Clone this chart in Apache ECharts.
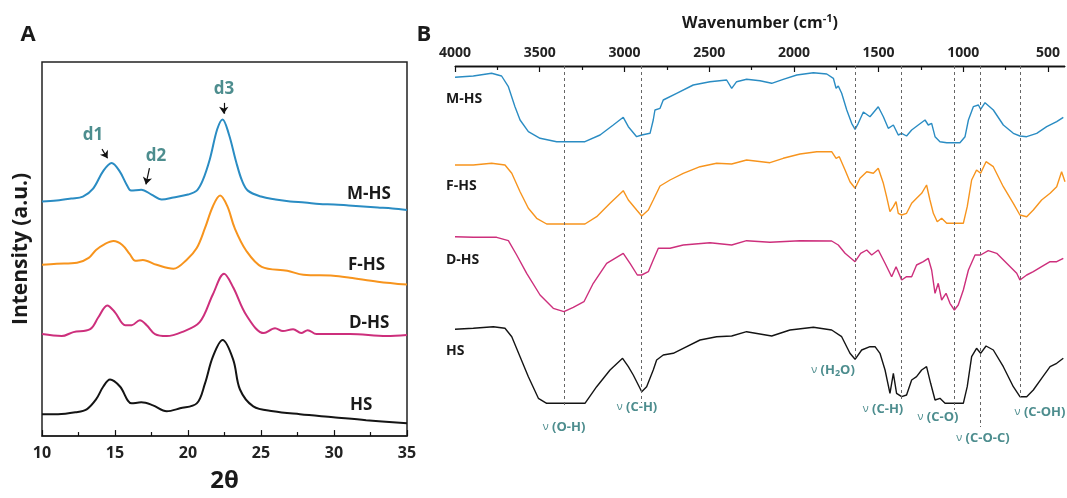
<!DOCTYPE html>
<html>
<head>
<meta charset="utf-8">
<script src="https://cdn.jsdelivr.net/npm/echarts@6/dist/echarts.min.js"></script>
<style>
html, body { margin: 0; background: #fff; }
#main { width: 1067px; height: 498px; }
</style>
</head>
<body>
<div id="main"></div>
<script>
// panel A, XRD: [2theta, intensity a.u. (curves stacked)]
var xrdMHS = [[10,237],[11,238],[12,240],[12.8,242],[13.5,250],[14.2,268],[14.77,276],[15.3,268],[15.8,254],[16.1,248],[16.8,249],[17.5,244],[18.2,239],[19,241],[20,244],[20.6,248],[21,258],[21.5,280],[22,310],[22.37,320],[22.8,305],[23.3,277],[23.7,258],[24.1,248],[25,242],[26,239],[27,237],[28,236],[29,234.5],[30,234],[31,233],[32,232],[33,231],[34,230],[35,228.5]];
var xrdFHS = [[10,173],[11,174],[12.4,175],[13.2,180],[13.7,188],[14.3,194],[14.9,197],[15.5,193],[16,184],[16.4,177],[16.9,178],[17.85,173],[19,169],[19.9,178],[20.6,190],[21.16,210],[21.7,232],[22.2,243],[22.7,232],[23.2,210],[24,187],[25.05,171],[26.8,167],[27.9,163],[29.95,162],[31.1,160],[33,156],[35,153]];
var xrdDHS = [[10,103],[11.35,101],[12.15,105],[13.3,108],[13.86,120],[14.47,132],[15,125],[15.7,112],[16.14,112],[16.7,117],[17.17,112],[17.74,103],[18.54,101],[19.57,105],[20.8,115],[21.7,143],[22.47,164],[23.1,150],[24,122],[25.2,104],[25.96,109],[26.5,106],[27.2,108],[27.75,104],[28.2,107],[28.8,103],[31.1,103],[33.6,101],[35,102]];
var xrdHS = [[10,22],[11.1,22],[12.3,24],[13.06,27],[13.7,37],[14.2,50],[14.66,57],[15.34,50],[16.14,33],[16.8,34],[17.6,31],[18.54,25],[19.45,28],[20.6,33],[21.16,53],[21.7,80],[22.37,97],[23.1,77],[23.56,47],[24.47,30],[25.84,25],[27.67,22],[29.95,19],[32.2,16],[35,13]];

// panel B, FTIR: [wavenumber, transmittance a.u. (curves stacked)]
var ftirMHS = [[4000,372.7],[3892,374],[3784,376.7],[3725,374],[3685,363.3],[3646,343.3],[3616,330],[3567,318.3],[3498,311.7],[3400,308.3],[3233,308.3],[3144,315],[3066,325],[3007,332.7],[2977,323.3],[2928,313.3],[2898,315],[2849,316.7],[2830,330],[2820,340],[2790,341.7],[2771,350],[2692,356.7],[2594,365],[2495,368.3],[2397,370],[2367,361.7],[2338,368.3],[2279,370.7],[2200,369.3],[2131,366.7],[2063,370.7],[1983,375],[1885,377.3],[1806,376],[1767,371.7],[1751,361.7],[1738,364],[1718,356.7],[1688,340],[1659,326.7],[1639,320.7],[1620,326.7],[1590,338],[1551,333.3],[1502,343.3],[1472,333.3],[1443,321.7],[1413,325],[1384,315],[1364,316.7],[1335,314],[1305,320],[1266,325],[1226,330],[1207,325],[1187,326.7],[1167,313.3],[1138,308.3],[1098,307.3],[1020,307.3],[990,313.3],[970,330],[941,343.3],[911,345],[898,340.7],[872,347.3],[823,340],[764,325],[705,316.7],[666,314],[626,313.3],[567,316.7],[508,323.3],[449,328.3],[410,332.7]];
var ftirFHS = [[4000,285],[3892,285],[3784,286.7],[3705,285],[3665,276.7],[3616,258.3],[3567,241.7],[3518,231.7],[3459,226],[3233,226],[3164,233.3],[3085,246.7],[3007,259.3],[2977,250],[2928,240],[2898,234],[2859,240],[2830,250],[2790,264],[2731,270],[2653,276.7],[2554,283.3],[2456,286.7],[2367,286],[2279,290],[2141,287.3],[2063,291.7],[1964,296],[1865,298.3],[1777,298.3],[1751,291.7],[1732,293.3],[1698,280],[1669,268.3],[1639,261.7],[1610,271.7],[1570,278.3],[1531,276.7],[1502,281.7],[1472,266.7],[1453,253.3],[1433,238.3],[1413,243.3],[1397,248.3],[1384,236.7],[1364,235],[1335,236.7],[1305,246.7],[1276,251.7],[1246,256.7],[1217,265],[1197,250],[1177,236.7],[1154,228.3],[1128,231.7],[1098,226.7],[1000,226.7],[977,243.3],[951,270],[922,280],[898,276.7],[866,288.3],[823,283.3],[764,263.3],[705,246.7],[666,235],[626,233.3],[587,240],[538,250],[488,256.7],[449,263.3],[420,278.3],[400,268.3]];
var ftirDHS = [[4000,213.3],[3892,212.7],[3754,212.7],[3685,209.3],[3636,195],[3577,176.7],[3498,155],[3420,141.7],[3357,138.3],[3302,142.7],[3239,148.3],[3184,166.7],[3105,186.7],[3007,196.7],[2967,186.7],[2924,175],[2898,175],[2859,178.3],[2830,190],[2800,201.7],[2731,201.7],[2653,205],[2495,207.3],[2367,205],[2279,209.3],[2141,207.7],[1964,209.3],[1777,209],[1738,205],[1698,196.7],[1639,188.3],[1606,196.7],[1570,200],[1541,195],[1502,200],[1462,186.7],[1423,173.3],[1397,183.3],[1364,170],[1335,173.3],[1305,173.3],[1276,185],[1236,188.3],[1207,191.7],[1187,180],[1167,156.7],[1148,166.7],[1128,150],[1102,156.7],[1079,146.7],[1053,140],[1030,145],[1000,160],[970,180],[931,195],[898,195],[853,199.3],[803,196.7],[744,186.7],[685,176.7],[666,170],[626,175],[587,178.3],[538,183.3],[488,188.3],[449,188.3],[410,191.7]];
var ftirHS = [[4000,120.7],[3892,121.7],[3774,123.3],[3705,121.7],[3665,113.3],[3616,93.3],[3567,73.3],[3508,51.7],[3459,46.7],[3233,46.7],[3164,63.3],[3085,80],[3011,91.7],[2977,83.3],[2948,75],[2898,58.3],[2869,63.3],[2830,80],[2810,90],[2771,95],[2712,96.7],[2653,101.7],[2554,110],[2456,113.3],[2367,114],[2279,118.3],[2131,114],[2023,120],[1885,122.7],[1777,120],[1718,113.3],[1669,96.7],[1639,90.7],[1600,100],[1551,103.3],[1521,103.3],[1492,96.7],[1462,80],[1433,56.7],[1413,76.7],[1394,56.7],[1364,53.3],[1335,55],[1305,70],[1276,73.3],[1246,80],[1217,83.3],[1193,66.7],[1167,50],[1138,51.7],[1108,46.7],[1000,46.7],[977,63.3],[951,93.3],[922,101.7],[898,96.7],[866,104],[823,100],[764,83.3],[705,63.3],[666,53.3],[626,53.3],[587,60],[538,71.7],[488,83.3],[449,86.7],[410,91.7]];

var sampleNames = ['M-HS', 'F-HS', 'D-HS', 'HS'];
var xrdMajor = [10, 15, 20, 25, 30, 35];
var xrdMinor = [12.5, 17.5, 22.5, 27.5, 32.5];
var ftirMajor = [500, 1000, 1500, 2000, 2500, 3000, 3500, 4000];
var ftirMinor = [750, 1250, 1750, 2250, 2750, 3250, 3750];
// band guides: wavenumber and where the dashed line stops (a.u.)
var bandPos = [3355, 2898, 1640, 1365, 1053, 900, 665];
var bandEnd = [45, 47, 90, 50, 40, 23, 53];
// d-spacing arrows on M-HS: [from, to] in [2theta, a.u.]
var dArrows = [[[14.11, 290], [14.49, 280.7]], [[17.36, 270.7], [17.12, 254.3]], [[22.45, 336.7], [22.45, 325.7]]];

var colors = ['#2a8cc3', '#f7941d', '#cd2f7c', '#141414'];
var teal = '#4d8d8e';
var XRD_TOP = 378, FTIR_TOP = 384;

var chart = echarts.init(document.getElementById('main'));

function txt(x, y, text, size, color, align, rich) {
    return {
        type: 'text', x: x, y: y, silent: true,
        style: {
            text: text, fill: color || '#1a1a1a', fontSize: size, fontWeight: 'bold',
            fontFamily: 'Open Sans', align: align || 'center', verticalAlign: 'middle',
            rich: rich
        }
    };
}
var nuRich = { nu: { fontSize: 11, fontWeight: 'normal', fill: teal, fontFamily: 'Open Sans' },
               sub: { fontSize: 9, fontWeight: 'bold', fill: teal, fontFamily: 'Open Sans', padding: [7, 0, 0, 0] } };

function pair(x1, y1, x2, y2) { return [{ coord: [x1, y1] }, { coord: [x2, y2] }]; }

// tick marks of the 2theta scale, pointing up from the bottom frame
var xrdTickMarks = xrdMajor.map(function (v) { return pair(v, 0, v, 6); })
    .concat(xrdMinor.map(function (v) { return pair(v, 0, v, 4); }));
// wavenumber scale: line along the top of panel B and ticks pointing down
var ftirScaleMarks = [pair(400, FTIR_TOP, 4000, FTIR_TOP)]
    .concat(ftirMajor.map(function (v) { return pair(v, FTIR_TOP, v, FTIR_TOP - 6); }))
    .concat(ftirMinor.map(function (v) { return pair(v, FTIR_TOP, v, FTIR_TOP - 4); }));
var bandMarks = bandPos.map(function (w, k) { return pair(w, FTIR_TOP, w, bandEnd[k]); });

var xrdSets = [xrdMHS, xrdFHS, xrdDHS, xrdHS];
var ftirSets = [ftirMHS, ftirFHS, ftirDHS, ftirHS];
var series = [];
xrdSets.forEach(function (d, i) {
    var s = {
        name: sampleNames[i], type: 'line', xAxisIndex: 0, yAxisIndex: 0,
        data: d, smooth: 0.35, showSymbol: false, silent: true,
        lineStyle: { color: colors[i], width: 2 }
    };
    if (i == 0) {
        s.markLine = {
            silent: true, symbol: ['none', 'arrow'], symbolSize: 7, label: { show: false },
            lineStyle: { color: '#111', type: 'solid', width: 1.2 },
            data: dArrows.map(function (a) { return [{ coord: a[0] }, { coord: a[1] }]; })
        };
    }
    if (i == 1) {
        s.markLine = {
            silent: true, symbol: ['none', 'none'], symbolSize: 0, label: { show: false },
            lineStyle: { color: '#111', type: 'solid', width: 1.2 },
            data: xrdTickMarks
        };
    }
    series.push(s);
});
ftirSets.forEach(function (d, i) {
    var s = {
        name: sampleNames[i] + ' FTIR', type: 'line', xAxisIndex: 1, yAxisIndex: 1,
        data: d, showSymbol: false, silent: true,
        lineStyle: { color: colors[i], width: 1.4 }
    };
    if (i == 0) {
        s.clip = false;
        s.markLine = {
            silent: true, symbol: ['none', 'none'], symbolSize: 0, label: { show: false },
            lineStyle: { color: '#111', type: 'solid', width: 1.2 },
            data: ftirScaleMarks
        };
    }
    if (i == 3) {
        s.markLine = {
            silent: true, symbol: 'none', label: { show: false },
            lineStyle: { color: '#666', type: [3, 3], width: 1 },
            data: bandMarks
        };
    }
    series.push(s);
});

var option = {
    animation: false,
    textStyle: { fontFamily: 'Open Sans' },
    grid: [
        { left: 42, top: 62, width: 365, height: 378, show: true, borderColor: '#222', borderWidth: 1.5 },
        { left: 455, top: 66, width: 610, height: 384 },
        // hairline frame that doubles as the top axis line of panel B
        { left: 455, top: 66, width: 610, height: 1, show: true, borderColor: '#222', borderWidth: 1 }
    ],
    xAxis: [
        {
            gridIndex: 0, type: 'value', min: 10, max: 35,
            axisLine: { show: true, lineStyle: { color: '#222', width: 1.5 } },
            axisTick: { show: false }, splitLine: { show: false },
            axisLabel: { show: true, customValues: xrdMajor, fontSize: 16, fontWeight: 'bold', color: '#222', margin: 9 },
            name: '2θ', nameLocation: 'middle', nameGap: 33,
            nameTextStyle: { fontSize: 24, fontWeight: 'bold', color: '#1a1a1a' }
        },
        {
            gridIndex: 1, type: 'value', position: 'top', inverse: true, min: 400, max: 4000,
            axisLine: { show: false }, axisTick: { show: false }, splitLine: { show: false },
            axisLabel: {
                show: true, customValues: ftirMajor, fontSize: 14, fontWeight: 'bold', color: '#222', margin: 6,
                formatter: function (v) { return String(v); }
            },
            name: 'Wavenumber (cm{sup|-1})', nameLocation: 'middle', nameGap: 33,
            nameTextStyle: {
                fontSize: 16, fontWeight: 'bold', color: '#1a1a1a',
                rich: { sup: { fontSize: 11, fontWeight: 'bold', color: '#1a1a1a', padding: [0, 0, 9, 0] } }
            }
        },
        { gridIndex: 2, type: 'value', min: 0, max: 1, show: false }
    ],
    yAxis: [
        {
            gridIndex: 0, type: 'value', min: 0, max: XRD_TOP,
            axisLine: { show: false }, axisTick: { show: false }, axisLabel: { show: false }, splitLine: { show: false },
            name: 'Intensity (a.u.)', nameLocation: 'middle', nameGap: 10,
            nameTextStyle: { fontSize: 21, fontWeight: 'bold', color: '#1a1a1a' }
        },
        { gridIndex: 1, type: 'value', min: 0, max: FTIR_TOP, show: false },
        { gridIndex: 2, type: 'value', min: 0, max: 1, show: false }
    ],
    series: series,
    graphic: [
        txt(28, 35, 'A', 22),
        txt(424, 35, 'B', 22),
        txt(347, 194, 'M-HS', 17, null, 'left'),
        txt(348, 265, 'F-HS', 17, null, 'left'),
        txt(349, 323, 'D-HS', 17, null, 'left'),
        txt(350, 405, 'HS', 17, null, 'left'),
        txt(93, 135, 'd1', 17, teal),
        txt(156, 156, 'd2', 17, teal),
        txt(224, 89, 'd3', 17, teal),
        txt(446, 99, 'M-HS', 14, null, 'left'),
        txt(446, 186, 'F-HS', 14, null, 'left'),
        txt(446, 260, 'D-HS', 14, null, 'left'),
        txt(446, 351, 'HS', 14, null, 'left'),
        txt(564, 427, '{nu|ν} (O-H)', 13, teal, 'center', nuRich),
        txt(637, 407, '{nu|ν} (C-H)', 13, teal, 'center', nuRich),
        txt(833, 370, '{nu|ν} (H{sub|2}O)', 13, teal, 'center', nuRich),
        txt(883, 409, '{nu|ν} (C-H)', 13, teal, 'center', nuRich),
        txt(938, 417, '{nu|ν} (C-O)', 13, teal, 'center', nuRich),
        txt(983, 438, '{nu|ν} (C-O-C)', 13, teal, 'center', nuRich),
        txt(1040, 412, '{nu|ν} (C-OH)', 13, teal, 'center', nuRich)
    ]
};
chart.setOption(option);
</script>
</body>
</html>
